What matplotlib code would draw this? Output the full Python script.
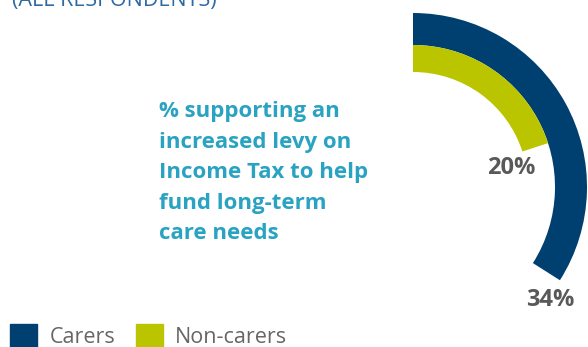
import numpy as np
import matplotlib.pyplot as plt
from matplotlib.patches import Rectangle

plt.rcParams['font.family'] = ['Open Sans', 'DejaVu Sans']

groups = ['Carers', 'Non-carers']
support = [34, 20]          # % supporting the levy
colours = ['#004071', '#bac500']
# ring radii (outer, inner) in pixels of the polar axes
rings = [(174, 142), (142, 115)]

W, H = 588, 347
fig = plt.figure(figsize=(W / 100, H / 100), dpi=100)

# polar axes centred on (413, 187) px from top-left, radius 174 px
cx, cy, R = 413, 187, 174
ax = fig.add_axes([(cx - R) / W, (H - cy - R) / H, 2 * R / W, 2 * R / H],
                  projection='polar')
ax.set_theta_zero_location('N')
ax.set_theta_direction(-1)
ax.set_ylim(0, R)
ax.axis('off')

for val, col, (r_out, r_in) in zip(support, colours, rings):
    ang = val / 100 * 2 * np.pi
    ax.bar(0, r_out - r_in, width=ang, bottom=r_in, align='edge',
           color=col, edgecolor='none', clip_on=False)

# value labels just past the end of each arc
lab_r = [178, 100]
for val, r in zip(support, lab_r):
    ang = val / 100 * 2 * np.pi + np.radians(7)
    ax.text(ang, r, f'{val}%', ha='center', va='center', fontsize=17,
            fontweight='bold', color='#595959', clip_on=False)

# heading runs off the top edge
fig.text(12 / W, 1 - 6 / H, '(ALL RESPONDENTS)', fontsize=15.5,
         color='#2e6aa0', ha='left', va='baseline')

fig.text(159 / W, 1 - 101 / H,
         '% supporting an\nincreased levy on\nIncome Tax to help\nfund long-term\ncare needs',
         fontsize=16, fontweight='bold', color='#2aa3c2', ha='left', va='top',
         linespacing=1.6)

# legend
leg_x = [10, 136]
txt_x = [50, 175]
for g, col, lx, tx in zip(groups, colours, leg_x, txt_x):
    fig.patches.append(Rectangle((lx / W, 0), 27 / W, 23 / H,
                                 transform=fig.transFigure, color=col))
    fig.text(tx / W, 1 - 343 / H, g, fontsize=15.5, color='#666666',
             ha='left', va='baseline')

fig.savefig('out.png', dpi=100)
